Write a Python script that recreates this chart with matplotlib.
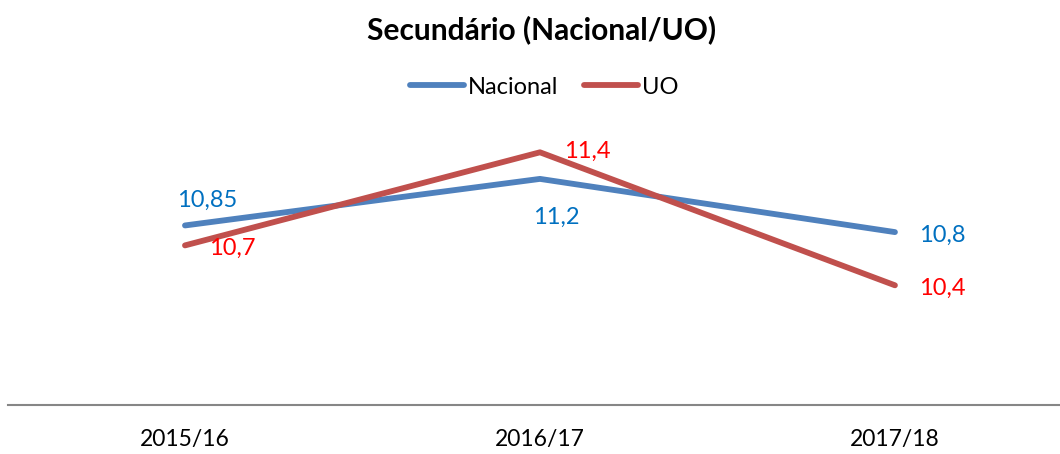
import matplotlib
matplotlib.use("Agg")
import matplotlib.pyplot as plt

categories = ["2015/16", "2016/17", "2017/18"]
nacional = [10.85, 11.2, 10.8]
uo = [10.7, 11.4, 10.4]
nacional_labels = ["10,85", "11,2", "10,8"]
uo_labels = ["10,7", "11,4", "10,4"]

plt.rcParams['font.family'] = ['Lato', 'DejaVu Sans']

W, H = 1060, 454
fig = plt.figure(figsize=(W / 100, H / 100), dpi=100)
ax = fig.add_axes([8 / W, (H - 405) / H, (1060 - 8) / W, (405 - 139) / H])
x = list(range(len(categories)))

blue_line = "#4F81BD"
red_line = "#C0504D"
ax.plot(x, nacional, color=blue_line, lw=4.2, solid_capstyle="round", label="Nacional", clip_on=False, zorder=3)
ax.plot(x, uo, color=red_line, lw=4.2, solid_capstyle="round", label="UO", clip_on=False, zorder=3)

ax.set_xlim(-0.4986, 2.465)
ax.set_ylim(9.5, 11.5)
for s in ["top", "right", "left"]:
    ax.spines[s].set_visible(False)
ax.spines["bottom"].set_color("#868686")
ax.spines["bottom"].set_linewidth(1.5)
ax.set_yticks([])
ax.set_xticks(x)
ax.set_xticklabels(categories, fontsize=16.5)
ax.tick_params(axis="x", length=0, pad=17)

# data labels (offsets in points)
n_off = [(16, 18, "center"), (12, -28, "center"), (17, -2, "left")]
u_off = [(17, -2, "left"), (17, 1, "left"), (17, -2, "left")]
for i in x:
    dx, dy, ha = n_off[i]
    ax.annotate(nacional_labels[i], (i, nacional[i]), xytext=(dx, dy), textcoords="offset points",
                ha=ha, va="center", fontsize=17, color="#0070C0")
    dx, dy, ha = u_off[i]
    ax.annotate(uo_labels[i], (i, uo[i]), xytext=(dx, dy), textcoords="offset points",
                ha=ha, va="center", fontsize=17, color="#FF0000")

fig.text(542 / W, 1 - 30 / H, "Secundário (Nacional/UO)", ha="center", va="center",
         fontsize=21.5, fontweight="bold")
fig.legend(loc="center", bbox_to_anchor=(544 / W, 1 - 87 / H), ncol=2, frameon=False,
           fontsize=17, handlelength=2.3, handletextpad=0.15, columnspacing=1.1)

fig.savefig("out.png", dpi=100)
